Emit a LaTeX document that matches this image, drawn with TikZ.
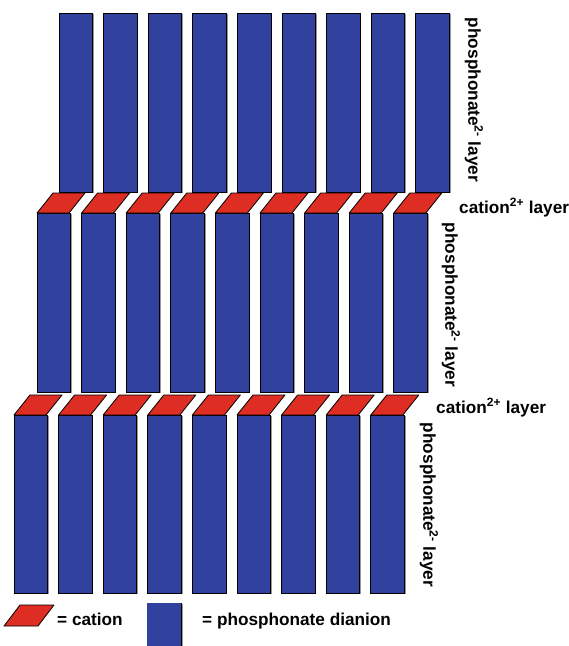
\documentclass[tikz,border=0pt]{standalone}
\usepackage{fontspec}
\setmainfont{Liberation Sans}
\definecolor{dianion}{RGB}{48,66,158}
\definecolor{cation}{RGB}{222,46,36}
\begin{document}
\begin{tikzpicture}[x=1pt,y=-1pt,
  dianionbox/.style={fill=dianion, draw=black, line width=0.8pt},
  cationtile/.style={fill=cation, draw=black, line width=0.8pt, line join=round},
  dropshade/.style={fill=black!40},
  lbl/.style={font=\bfseries\fontsize{17.2}{20}\selectfont, inner sep=0pt}]
\useasboundingbox (0,0) rectangle (569,646);
\clip (0,0) rectangle (569,646);

% three layers of phosphonate dianions
\foreach \xo/\yt/\yb in {59/13/192, 37/213/392, 14/415/593}{
  \foreach \i in {0,...,8}{
    \pgfmathsetmacro{\xl}{\xo+44.6*\i}
    \fill[dropshade] (\xl+1.2,\yt+1.2) rectangle (\xl+34.7,\yb+1.2);
    \draw[dianionbox] (\xl,\yt) rectangle (\xl+33.5,\yb);
  }
}

% cation layers between the dianion layers
\foreach \xo/\yt/\yb in {37/193/213, 14/395/415}{
  \foreach \i in {0,...,8}{
    \pgfmathsetmacro{\xl}{\xo+44.6*\i}
    \draw[cationtile] (\xl,\yb) -- (\xl+32,\yb) -- (\xl+48,\yt) -- (\xl+16,\yt) -- cycle;
  }
}

% layer labels
\node[lbl, rotate=-90] (phos1) at (474,100) {phosphonate\textsuperscript{2-} layer};
\node[lbl, rotate=-90] (phos2) at (451,305) {phosphonate\textsuperscript{2-} layer};
\node[lbl, rotate=-90] (phos3) at (429,505) {phosphonate\textsuperscript{2-} layer};
\node[lbl, anchor=base west] (cat1) at (459,213) {cation\textsuperscript{2+} layer};
\node[lbl, anchor=base west] (cat2) at (436,413) {cation\textsuperscript{2+} layer};

% legend
\draw[cationtile] (4,626) -- (38,626) -- (54,605) -- (20,605) -- cycle;
\node[lbl, anchor=base west] (legcat) at (57,625) {= cation};
\fill[dropshade] (148.2,604.2) rectangle (182.7,650);
\draw[dianionbox] (147,650) -- (147,603) -- (181.5,603) -- (181.5,650);
\fill[dianion] (147.4,603.4) rectangle (181.1,650);
\node[lbl, anchor=base west] (legphos) at (202,625) {= phosphonate dianion};
\end{tikzpicture}
\end{document}
